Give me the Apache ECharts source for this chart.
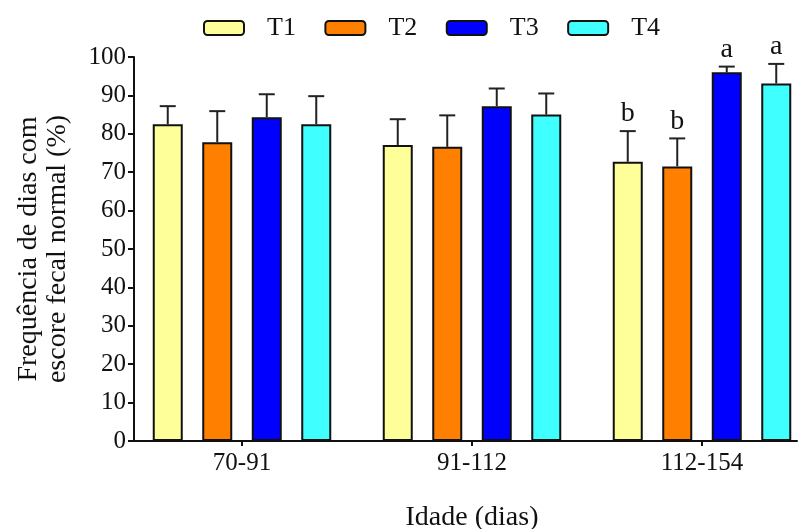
<!DOCTYPE html>
<html>
<head>
<meta charset="utf-8">
<script src="https://cdn.jsdelivr.net/npm/echarts@6/dist/echarts.min.js"></script>
<style>
  html, body { margin: 0; padding: 0; background: #fff; }
  #chart { width: 802px; height: 529px; }
</style>
</head>
<body>
<div id="chart"></div>
<script>
const categories = ['70-91', '91-112', '112-154']
const seriesNames = ['T1', 'T2', 'T3', 'T4']
const t1 = [82.5, 77.1, 72.7]
const t2 = [77.8, 76.6, 71.5]
const t3 = [84.3, 87.2, 96.0]
const t4 = [82.5, 85.0, 93.1]
const t1Err = [4.7, 6.7, 8.0]
const t2Err = [8.1, 8.2, 7.3]
const t3Err = [6.0, 4.6, 1.5]
const t4Err = [7.3, 5.5, 5.1]
const t1Letters = ['', '', 'b']
const t2Letters = ['', '', 'b']
const t3Letters = ['', '', 'a']
const t4Letters = ['', '', 'a']
const yTicks = [0, 10, 20, 30, 40, 50, 60, 70, 80, 90, 100]

const colors = ['#ffff99', '#ff8000', '#0000ff', '#40ffff']
const FONT = '"Liberation Serif", "Times New Roman", serif'
const BAR_WIDTH = 30
const BAR_STEP = 49.5

function barSeries(name, values, i) {
  return {
    type: 'bar',
    name: name,
    xAxisIndex: 0,
    yAxisIndex: 0,
    data: values,
    barWidth: BAR_WIDTH,
    barGap: ((BAR_STEP - BAR_WIDTH) / BAR_WIDTH * 100).toFixed(1) + '%',
    itemStyle: { color: colors[i], borderColor: '#111', borderWidth: 2 },
    z: 2
  }
}

function errorSeries(values, errors, letters, i) {
  return {
    type: 'custom',
    name: seriesNames[i] + ' err',
    xAxisIndex: 0,
    yAxisIndex: 0,
    z: 3,
    data: values.map((v, k) => [k, v, v + errors[k]]),
    renderItem: function (params, api) {
      const base = api.coord([api.value(0), api.value(1)])
      const top = api.coord([api.value(0), api.value(2)])
      const x = base[0] + (i - 1.5) * BAR_STEP
      const stroke = { stroke: '#222', lineWidth: 2 }
      const children = [
        { type: 'line', shape: { x1: x, y1: base[1], x2: x, y2: top[1] }, style: stroke },
        { type: 'line', shape: { x1: x - 8, y1: top[1], x2: x + 8, y2: top[1] }, style: stroke }
      ]
      const letter = letters[params.dataIndex]
      if (letter) {
        children.push({
          type: 'text',
          style: {
            text: letter, x: x, y: top[1] - 3,
            align: 'center', verticalAlign: 'bottom',
            font: '28px ' + FONT, fill: '#111'
          }
        })
      }
      return { type: 'group', children: children }
    }
  }
}

const values = [t1, t2, t3, t4]
const errors = [t1Err, t2Err, t3Err, t4Err]
const letters = [t1Letters, t2Letters, t3Letters, t4Letters]

const chart = echarts.init(document.getElementById('chart'))
chart.setOption({
  animation: false,
  textStyle: { fontFamily: FONT },
  legend: {
    data: seriesNames,
    left: 203,
    top: 15,
    padding: 0,
    itemWidth: 40,
    itemHeight: 14,
    itemGap: 28.5,
    textStyle: { fontSize: 26, color: '#111', fontFamily: FONT, padding: [0, 0, 0, 18] }
  },
  grid: [
    { left: 127, width: 690, top: 57, height: 384, outerBoundsMode: 'none', containLabel: false },
    { left: 134, right: 5, top: 57, height: 384, outerBoundsMode: 'none', containLabel: false }
  ],
  xAxis: [
    {
      type: 'category',
      gridIndex: 0,
      data: categories,
      axisLine: { show: false },
      axisTick: { show: true, alignWithLabel: true, length: 5, lineStyle: { color: '#111', width: 2 } },
      axisLabel: { fontSize: 25, color: '#111', fontFamily: FONT, margin: 10 },
      name: 'Idade (dias)',
      nameLocation: 'middle',
      nameGap: 63,
      nameTextStyle: { fontSize: 28, color: '#111', fontFamily: FONT }
    },
    {
      type: 'value',
      gridIndex: 1,
      min: 0,
      max: 1,
      axisLine: { show: true, onZero: false, lineStyle: { color: '#111', width: 2 } },
      axisTick: { show: false },
      axisLabel: { show: false },
      splitLine: { show: false }
    }
  ],
  yAxis: [
    {
      type: 'value',
      gridIndex: 0,
      min: 0,
      max: 100,
      interval: 10,
      show: false
    },
    {
      type: 'value',
      gridIndex: 1,
      min: yTicks[0],
      max: yTicks[yTicks.length - 1],
      interval: yTicks[1] - yTicks[0],
      axisLine: { show: true, lineStyle: { color: '#111', width: 2 } },
      axisTick: { show: true, length: 6, lineStyle: { color: '#111', width: 2 } },
      axisLabel: { fontSize: 25, color: '#111', fontFamily: FONT, margin: 8 },
      splitLine: { show: false },
      name: 'Frequência de dias com\nescore fecal normal (%)',
      nameLocation: 'middle',
      nameGap: 62,
      nameTextStyle: { fontSize: 28, color: '#111', fontFamily: FONT, lineHeight: 29 }
    }
  ],
  series: [
    ...values.map((v, i) => barSeries(seriesNames[i], v, i)),
    ...values.map((v, i) => errorSeries(v, errors[i], letters[i], i))
  ]
})
</script>
</body>
</html>
